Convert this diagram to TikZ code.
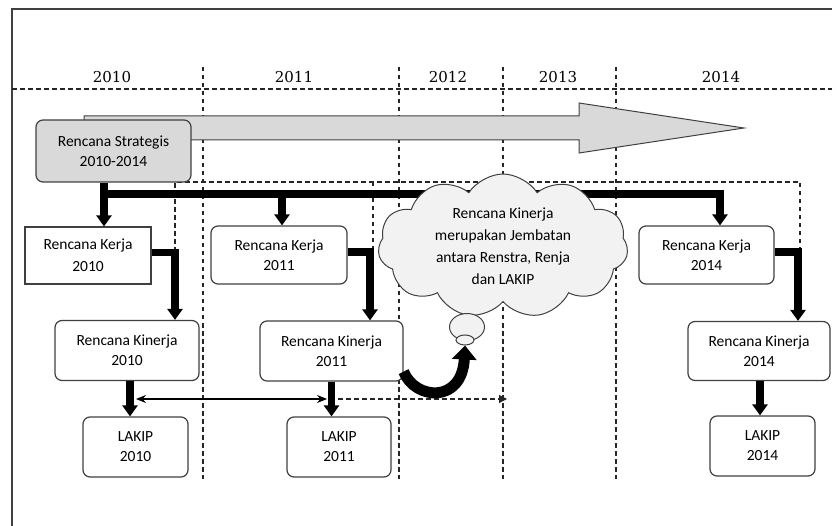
\documentclass[tikz,border=0pt]{standalone}
\usepackage{fontspec}
\setmainfont{Carlito}
\newfontfamily\yearfont{DejaVu Serif}
\usetikzlibrary{arrows.meta,shapes.symbols,shapes.geometric,calc}
\definecolor{edge}{HTML}{404040}
\definecolor{boxgray}{HTML}{D9D9D9}
\definecolor{cloudgray}{HTML}{F2F2F2}
\begin{document}
\begin{tikzpicture}[x=1pt,y=-1pt,
  box/.style={draw=edge, line width=1.2pt, rounded corners=7pt, fill=white, align=center,
    font=\fontsize{15.5}{20}\selectfont, inner sep=0pt},
  yearlbl/.style={font=\yearfont\fontsize{15}{18}\selectfont, text=black},
  gridline/.style={dash pattern=on 4.5pt off 3.5pt, line width=1.1pt, draw=black!85},
  fat/.style={line width=7.5pt, line join=miter, -{Triangle[width=15pt,length=11pt]}},
  thinarrow/.style={line width=1.1pt, {Stealth[width=8pt,length=10pt]}-{Stealth[width=8pt,length=10pt]}},
  puff/.style={draw=edge, line width=1pt, fill=cloudgray, ellipse, inner sep=0pt}
]
\useasboundingbox (0,0) rectangle (832,526);
% frame
\draw[edge, line width=1.2pt] (12,526) -- (12,9) -- (832,9);
% year grid
\draw[gridline] (12,89) -- (832,89);
\foreach \gx in {203,399,503,616} \draw[gridline] (\gx,67) -- (\gx,479);
\node[yearlbl] (y10) at (112,77) {2010};
\node[yearlbl] (y11) at (294,77) {2011};
\node[yearlbl] (y12) at (448,77) {2012};
\node[yearlbl] (y13) at (558,77) {2013};
\node[yearlbl] (y14) at (721,77) {2014};
% big timeline arrow
\draw[draw=edge, fill=boxgray, line width=1pt, line join=miter]
  (84,140) -- (84,116) -- (579,116) -- (579,103) -- (744,128) -- (579,153) -- (579,140) -- cycle;
% inner dashed guide lines
\draw[gridline] (175,252) -- (175,182) -- (800,182) -- (800,252);
\draw[gridline] (373,182) -- (373,252);
% nodes
\node[box, fill=boxgray, minimum width=155pt, minimum height=62pt] (rs) at (113.5,151) {Rencana Strategis\\2010-2014};
\node[box, rounded corners=0pt, minimum width=126pt, minimum height=57pt] (rk10) at (88,255.5) {Rencana Kerja\\[2pt]2010};
\node[box, minimum width=136pt, minimum height=58pt] (rk11) at (279,255) {Rencana Kerja\\2011};
\node[box, minimum width=135pt, minimum height=58pt] (rk14) at (706.5,255) {Rencana Kerja\\2014};
\node[box, minimum width=144pt, minimum height=60pt] (rkn10) at (127,350.5) {Rencana Kinerja\\2010};
\node[box, minimum width=143pt, minimum height=60pt] (rkn11) at (331.5,351) {Rencana Kinerja\\2011};
\node[box, minimum width=142pt, minimum height=59pt] (rkn14) at (759,351) {Rencana Kinerja\\2014};
\node[box, minimum width=105pt, minimum height=60pt] (lk10) at (135.5,447) {LAKIP\\2010};
\node[box, minimum width=104pt, minimum height=60pt] (lk11) at (339,447) {LAKIP\\2011};
\node[box, minimum width=105pt, minimum height=60pt] (lk14) at (762.5,446) {LAKIP\\2014};
% bus
\coordinate (j10) at (104,194);
\coordinate (j11) at (282,194);
\coordinate (j14) at (720,194);
\draw[fat] (rs.south -| j10) -- (rk10.north -| j10);
\draw[fat] (j10) -- (j14) -- (rk14.north -| j14);
\draw[fat] (j11) -- (rk11.north -| j11);
% kerja -> kinerja
\draw[fat] ([yshift=3pt]rk10.east) -| ([xshift=48pt]rkn10.north);
\draw[fat] ([yshift=3pt]rk11.east) -| ([xshift=38.5pt]rkn11.north);
\draw[fat] ([yshift=3pt]rk14.east) -| ([xshift=39pt]rkn14.north);
% kinerja -> lakip
\draw[fat] ([xshift=3pt]rkn10.south) -- ([xshift=3pt]rkn10.south |- lk10.north);
\draw[fat] (rkn11.south) -- (rkn11.south |- lk11.north);
\draw[fat] ([xshift=1pt]rkn14.south) -- ([xshift=1pt]rkn14.south |- lk14.north);
% horizontal arrows
\coordinate (d1) at (136,399);
\coordinate (d2) at (327,399);
\coordinate (d3) at (338,399);
\coordinate (d4) at (507,399);
\draw[thinarrow] (d1) -- (d2);
\draw[gridline, -{Triangle[width=8pt,length=8pt]}] (d3) -- (d4);
% cloud
\node[cloud, cloud puffs=11, cloud puff arc=115, aspect=1.75, draw=edge, line width=1pt, fill=cloudgray,
  align=center, font=\fontsize{15.5}{22}\selectfont, inner xsep=-25pt, inner ysep=-20pt,
  minimum width=250pt, minimum height=144pt] (cl) at (503,246)
  {Rencana Kinerja\\merupakan Jembatan\\antara Renstra, Renja\\dan LAKIP};
\node[puff, minimum width=35pt, minimum height=27pt] (t1) at (467,327) {};
\node[puff, minimum width=18pt, minimum height=10pt] (t2) at (465,340) {};
% curved arrow
\draw[line width=11pt, -{Triangle[width=24pt,length=14pt]}]
  ([yshift=10pt]rkn11.south east) .. controls (415,400) and (462,404) .. (t2.south);
\end{tikzpicture}
\end{document}
